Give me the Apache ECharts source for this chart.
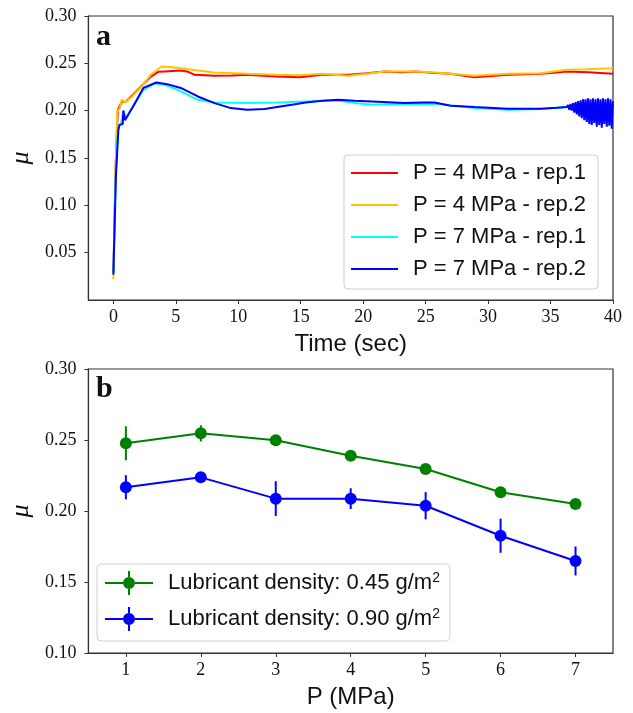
<!DOCTYPE html>
<html>
<head>
  <meta charset="utf-8" />
  <title>Friction coefficient</title>
  <script src="https://cdn.jsdelivr.net/npm/echarts@6/dist/echarts.min.js"></script>
  <style>
    html, body { margin: 0; padding: 0; background: #fff; }
    #chart { width: 633px; height: 713px; }
  </style>
</head>
<body>
  <div id="chart"></div>
  <script type="text/javascript">
    // panel a: friction coefficient vs time
    const timeTicks = [0, 5, 10, 15, 20, 25, 30, 35, 40]
    const muTicksA = [0.05, 0.1, 0.15, 0.2, 0.25, 0.3]

    const red1T = [0, 0.2, 0.35, 0.5, 0.7, 0.95, 1.5, 2.25, 3.0, 3.6, 4.1, 5.4, 6.0, 6.5, 8.1, 9.5, 10.7, 12.0, 13.1, 14.9, 16.7, 18.8, 20.3, 21.7, 23.0, 24.2, 25.5, 27.0, 28.9, 30.3, 31.6, 33.0, 34.2, 35.3, 36.3, 38.0, 40]
    const red1Mu = [0.03, 0.15, 0.2, 0.205, 0.21, 0.209, 0.216, 0.226, 0.236, 0.241, 0.2414, 0.2424, 0.241, 0.2379, 0.2368, 0.2372, 0.2379, 0.237, 0.2361, 0.2354, 0.2379, 0.2379, 0.2395, 0.2414, 0.2405, 0.2414, 0.24, 0.2389, 0.2354, 0.2365, 0.2379, 0.2385, 0.2389, 0.24, 0.2414, 0.2405, 0.2389]

    const yel2T = [0, 0.15, 0.3, 0.5, 0.66, 0.95, 1.5, 2.25, 3.0, 3.85, 4.5, 5.4, 6.76, 8.1, 10.7, 13.1, 14.9, 16.7, 18.8, 20.3, 21.7, 24.2, 25.5, 27.0, 28.9, 31.6, 34.2, 36.3, 38.0, 40]
    const yel2Mu = [0.022, 0.12, 0.199, 0.202, 0.2115, 0.2087, 0.215, 0.2255, 0.238, 0.2466, 0.246, 0.2449, 0.2424, 0.2403, 0.2389, 0.2379, 0.2375, 0.2389, 0.2368, 0.239, 0.2414, 0.2414, 0.2405, 0.2389, 0.2368, 0.2389, 0.2396, 0.2431, 0.2438, 0.2449]

    const cyan1T = [0, 0.2, 0.4, 0.6, 0.8, 1.0, 1.6, 2.4, 3.3, 4.2, 5.4, 6.76, 8.1, 10.7, 13.1, 15.4, 18.0, 19.3, 20.7, 23.3, 26.0, 28.9, 31.6, 34.2, 36.3, 40]
    const cyan1Mu = [0.027, 0.14, 0.185, 0.186, 0.2, 0.192, 0.205, 0.222, 0.229, 0.227, 0.2203, 0.2115, 0.2087, 0.208, 0.2087, 0.2097, 0.2107, 0.208, 0.2062, 0.207, 0.2073, 0.2027, 0.201, 0.2017, 0.2038, 0.2045]

    const blue2T = [0, 0.2, 0.4, 0.5, 0.75, 0.8, 0.93, 1.6, 2.4, 3.45, 4.3, 5.4, 6.76, 8.1, 9.4, 10.7, 12.1, 13.1, 14.3, 15.4, 16.7, 18.0, 19.3, 20.7, 22.0, 23.3, 24.7, 25.7, 27.0, 28.9, 31.6, 34.2, 35.5, 36.3,
      36.4, 36.5, 36.6, 36.7, 36.8, 36.9, 37.0, 37.1, 37.2, 37.3, 37.4, 37.5, 37.6, 37.7, 37.8, 37.9, 38.0, 38.1, 38.2, 38.3,
      38.4, 38.5, 38.6, 38.7, 38.8, 38.9, 39.0, 39.1, 39.2, 39.3, 39.4, 39.5, 39.6, 39.7, 39.8, 39.9, 40.0]
    const blue2Mu = [0.027, 0.13, 0.18, 0.185, 0.186, 0.2, 0.19, 0.205, 0.224, 0.2298, 0.228, 0.224, 0.215, 0.208, 0.2027, 0.201, 0.2017, 0.2038, 0.2062, 0.2087, 0.2104, 0.2115, 0.2104, 0.2097, 0.209, 0.208, 0.2087, 0.2087, 0.2052, 0.2038, 0.202, 0.202, 0.203, 0.2038,
      0.206, 0.201, 0.207, 0.2, 0.208, 0.198, 0.209, 0.196, 0.21, 0.194, 0.211, 0.192, 0.212, 0.19, 0.212, 0.188, 0.213, 0.186, 0.212, 0.185,
      0.213, 0.187, 0.212, 0.183, 0.213, 0.185, 0.212, 0.182, 0.213, 0.186, 0.212, 0.183, 0.213, 0.184, 0.212, 0.181, 0.21]

    const namesA = ["P = 4 MPa - rep.1", "P = 4 MPa - rep.2", "P = 7 MPa - rep.1", "P = 7 MPa - rep.2"]
    const colorsA = ["#ff0000", "#ffc400", "#00ffff", "#0000ff"]

    // panel b: friction coefficient vs pressure
    const pressure = [1, 2, 3, 4, 5, 6, 7]
    const muTicksB = [0.1, 0.15, 0.2, 0.25, 0.3]
    const mu045 = [0.2477, 0.2547, 0.2498, 0.2389, 0.2296, 0.2132, 0.2049]
    const err045 = [0.012, 0.0057, 0.0012, 0.0012, 0.0012, 0.0012, 0.0012]
    const mu090 = [0.2167, 0.2237, 0.2087, 0.2087, 0.2037, 0.1826, 0.1648]
    const err090 = [0.0085, 0.002, 0.0123, 0.0073, 0.0096, 0.012, 0.0102]

    const namesB = ["Lubricant density: 0.45 g/m2", "Lubricant density: 0.90 g/m2"]
    const colorsB = ["#008000", "#0000ff"]

    const pairs = (xs, ys) => xs.map((x, i) => [x, ys[i]])
    const errRows = (xs, ys, es) => xs.map((x, i) => [x, ys[i] - es[i], ys[i] + es[i]])

    const tickFont = "Liberation Serif"
    const sansFont = "Liberation Sans"
    const axisColor = "#333"

    function xAxisOf(gridIndex, min, max, ticks, title, gap) {
      return {
        type: "value",
        gridIndex: gridIndex,
        min: min,
        max: max,
        splitLine: { show: false },
        axisLine: { show: true, onZero: false, lineStyle: { color: axisColor, width: 1.2 } },
        axisTick: { show: true, length: 4, customValues: ticks, lineStyle: { color: axisColor } },
        axisLabel: { customValues: ticks, margin: 8, color: "#111", fontFamily: tickFont, fontSize: 18 },
        name: title,
        nameLocation: "middle",
        nameGap: gap,
        nameTextStyle: { fontFamily: sansFont, fontSize: 24, color: "#111", verticalAlign: "top" }
      }
    }

    function yAxisOf(gridIndex, min, max, ticks) {
      return {
        type: "value",
        gridIndex: gridIndex,
        min: min,
        max: max,
        splitLine: { show: false },
        axisLine: { show: true, onZero: false, lineStyle: { color: axisColor, width: 1.2 } },
        axisTick: { show: true, length: 4, customValues: ticks, lineStyle: { color: axisColor } },
        axisLabel: {
          customValues: ticks,
          margin: 12,
          color: "#111",
          fontFamily: tickFont,
          fontSize: 18,
          formatter: v => v.toFixed(2)
        },
        name: "μ",
        nameLocation: "middle",
        nameGap: 47,
        nameTextStyle: { fontFamily: tickFont, fontStyle: "italic", fontSize: 26, color: "#111" }
      }
    }

    const errIcon = "path://M0,11H18V13H0Z M30,11H48V13H30Z M23,0H25V6H23Z M23,18H25V24H23Z M24,6A6,6 0 1 1 24,18A6,6 0 1 1 24,6Z"

    const series = []
    const dataA = [pairs(red1T, red1Mu), pairs(yel2T, yel2Mu), pairs(cyan1T, cyan1Mu), pairs(blue2T, blue2Mu)]
    namesA.forEach((n, i) => {
      series.push({
        name: n,
        type: "line",
        xAxisIndex: 0,
        yAxisIndex: 0,
        symbol: "none",
        color: colorsA[i],
        lineStyle: { width: 2, color: colorsA[i] },
        data: dataA[i]
      })
    })

    const dataB = [pairs(pressure, mu045), pairs(pressure, mu090)]
    const errB = [errRows(pressure, mu045, err045), errRows(pressure, mu090, err090)]
    namesB.forEach((n, i) => {
      series.push({
        name: n,
        type: "line",
        xAxisIndex: 1,
        yAxisIndex: 1,
        symbol: "circle",
        symbolSize: 12,
        color: colorsB[i],
        itemStyle: { color: colorsB[i] },
        lineStyle: { width: 2, color: colorsB[i] },
        z: 3,
        data: dataB[i]
      })
      series.push({
        type: "custom",
        xAxisIndex: 1,
        yAxisIndex: 1,
        z: 2,
        data: errB[i],
        renderItem: function (params, api) {
          const lo = api.coord([api.value(0), api.value(1)])
          const hi = api.coord([api.value(0), api.value(2)])
          return {
            type: "line",
            shape: { x1: lo[0], y1: lo[1], x2: hi[0], y2: hi[1] },
            style: { stroke: colorsB[i], lineWidth: 2 }
          }
        }
      })
    })

    const myChart = echarts.init(document.getElementById("chart"), null, { renderer: "canvas" })

    const option = {
      animation: false,
      backgroundColor: "#fff",
      grid: [
        { left: 85, top: 16, width: 528, height: 284, show: true, borderColor: axisColor, borderWidth: 1.2, containLabel: false },
        { left: 85, top: 369, width: 528, height: 284, show: true, borderColor: axisColor, borderWidth: 1.2, containLabel: false }
      ],
      xAxis: [
        xAxisOf(0, -2, 40, timeTicks, "Time (sec)", 32),
        xAxisOf(1, 0.5, 7.5, pressure, "P (MPa)", 32)
      ],
      yAxis: [
        yAxisOf(0, 0, 0.3, muTicksA),
        yAxisOf(1, 0.1, 0.3, muTicksB)
      ],
      legend: [
        {
          data: namesA,
          orient: "vertical",
          left: 344,
          top: 155,
          icon: "rect",
          itemWidth: 47,
          itemHeight: 2,
          itemGap: 8,
          padding: [6, 12, 8, 7],
          borderColor: "#d0d0d0",
          borderWidth: 1,
          borderRadius: 4,
          selectedMode: false,
          textStyle: { fontFamily: sansFont, fontSize: 22, color: "#111", lineHeight: 24, padding: [0, 0, 0, 10] }
        },
        {
          data: namesB.map(n => ({ name: n, icon: errIcon })),
          orient: "vertical",
          left: 97,
          top: 564,
          itemWidth: 48,
          itemHeight: 24,
          itemGap: 12,
          padding: [7, 10, 10, 8],
          borderColor: "#d0d0d0",
          borderWidth: 1,
          borderRadius: 4,
          selectedMode: false,
          formatter: n => n.replace(/2$/, "{sup|2}"),
          textStyle: {
            fontFamily: sansFont,
            fontSize: 22,
            color: "#111",
            lineHeight: 24,
            padding: [0, 0, 0, 10],
            rich: { sup: { fontFamily: sansFont, fontSize: 14, color: "#111", verticalAlign: "top", padding: [0, 0, 8, 0] } }
          }
        }
      ],
      graphic: [
        { type: "text", left: 96, top: 22, style: { text: "a", fontFamily: tickFont, fontWeight: "bold", fontSize: 30, fill: "#111" } },
        { type: "text", left: 96, top: 374, style: { text: "b", fontFamily: tickFont, fontWeight: "bold", fontSize: 30, fill: "#111" } }
      ],
      series: series
    }

    myChart.setOption(option, true)
  </script>
</body>
</html>
